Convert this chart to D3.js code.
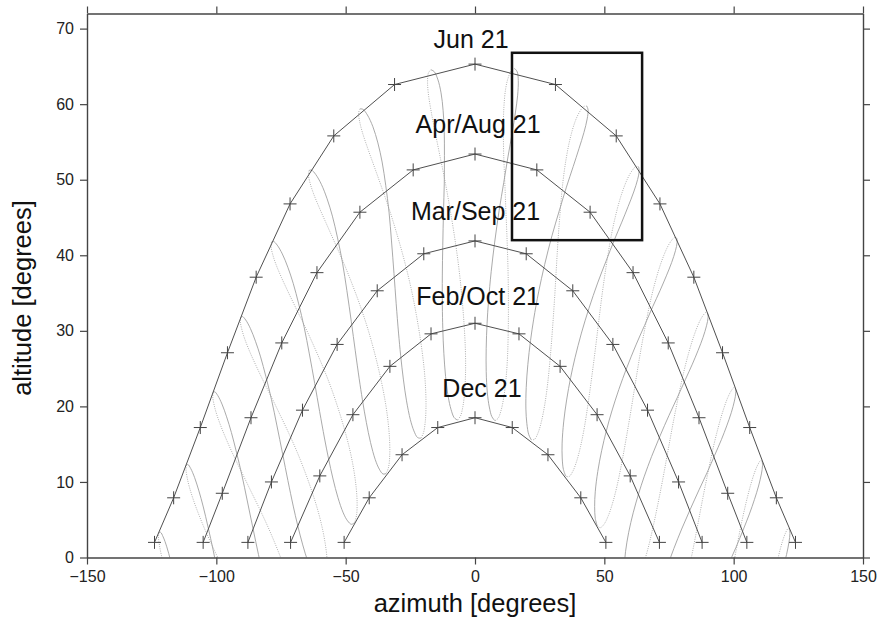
<!DOCTYPE html>
<html><head><meta charset="utf-8">
<script src="https://cdn.jsdelivr.net/npm/d3@7"></script>
<style>body{margin:0;background:#fff}</style>
</head><body>
<svg id="c" width="877" height="622"></svg>
<script>
// ---------- data ----------
const latitude = 48.1;
const xTicks = [-150, -100, -50, 0, 50, 100, 150];
const yTicks = [0, 10, 20, 30, 40, 50, 60, 70];

const dayLabels = ["Jun 21", "Apr/Aug 21", "Mar/Sep 21", "Feb/Oct 21", "Dec 21"];
const labelAz  = [-1.5, 1.2, 0.2, 1.2, 2.7];
const labelAlt = [67.5, 56.2, 44.7, 33.4, 21.3];

// hourly sun positions [azimuth, altitude] along each day path
const pathJun = [[-123.9,2],[-116.5,7.9],[-106.2,17.2],[-95.7,27.1],[-84.6,37.1],[-71.5,46.8],[-54.6,55.8],[-31.1,62.6],[0,65.3],[31.1,62.6],[54.6,55.8],[71.5,46.8],[84.6,37.1],[95.7,27.1],[106.2,17.2],[116.5,7.9],[123.9,2]];
const pathAprAug = [[-105.1,2],[-97.7,8.5],[-86.6,18.5],[-74.7,28.4],[-61.1,37.7],[-44.5,45.7],[-23.9,51.3],[0,53.4],[23.9,51.3],[44.5,45.7],[61.1,37.7],[74.7,28.4],[86.6,18.5],[97.7,8.5],[105.1,2]];
const pathMarSep = [[-87.8,2],[-78.7,10.0],[-66.7,19.5],[-53.3,28.2],[-37.8,35.3],[-19.8,40.2],[0,41.9],[19.8,40.2],[37.8,35.3],[53.3,28.2],[66.7,19.5],[78.7,10.0],[87.8,2]];
const pathFebOct = [[-71.3,2],[-60.0,10.8],[-47.2,18.9],[-32.9,25.3],[-17.0,29.6],[0,31.0],[17.0,29.6],[32.9,25.3],[47.2,18.9],[60.0,10.8],[71.3,2]];
const pathDec = [[-50.6,2],[-40.9,7.9],[-28.2,13.6],[-14.4,17.2],[0,18.5],[14.4,17.2],[28.2,13.6],[40.9,7.9],[50.6,2]];

// analemmas: sun declination [deg] and equation of time [min] through the year
const yearDates = ["Jan 1","Jan 11","Jan 21","Feb 1","Feb 11","Feb 21","Mar 1","Mar 11","Mar 21","Apr 1","Apr 11","Apr 21","May 1","May 11","May 21","Jun 1","Jun 11","Jun 21","Jul 1","Jul 11","Jul 21","Aug 1","Aug 11","Aug 21","Sep 1","Sep 11","Sep 21","Oct 1","Oct 11","Oct 21","Nov 1","Nov 11","Nov 21","Dec 1","Dec 11","Dec 21"];
const declination = [-23.0,-21.8,-20.0,-17.2,-14.1,-10.8,-7.8,-3.9,0.1,4.4,8.2,11.8,15.0,17.7,20.1,22.0,23.1,23.44,23.1,22.0,20.5,18.0,15.3,12.1,8.3,4.5,0.6,-3.3,-7.2,-10.9,-14.5,-17.5,-20.0,-21.8,-23.0,-23.44];
const equationOfTime = [-3.2,-7.6,-11.1,-13.5,-14.2,-13.7,-12.5,-10.2,-7.3,-4.0,-1.0,1.2,2.9,3.6,3.5,2.3,0.5,-1.6,-3.8,-5.5,-6.4,-6.3,-5.2,-3.2,0.0,3.3,6.9,10.3,13.1,15.2,16.4,16.0,14.1,11.0,6.8,1.9];
const meanHourAngles = [-112.5,-97.5,-82.5,-67.5,-52.5,-37.5,-22.5,-7.5,7.5,22.5,37.5,52.5,67.5,82.5,97.5,112.5];

const boxAz = [14.3, 64.6];
const boxAlt = [42.0, 66.8];

// ---------- chart ----------
const svg = d3.select("#c");
const x = d3.scaleLinear().domain([-150, 150]).range([87, 863]);
const y = d3.scaleLinear().domain([0, 72]).range([557.5, 13.5]);
const font = "'Liberation Sans', Arial, Helvetica, sans-serif";

svg.append("clipPath").attr("id", "plot").append("rect")
  .attr("x", 87).attr("y", 13.5).attr("width", 776).attr("height", 544);

// analemmas (sky coordinates rotated to the horizon frame by d3.geoRotation)
const toHorizon = d3.geoRotation([0, 90 - latitude, 0]);
const line = d3.line().x(d => x(d[0])).y(d => y(d[1])).curve(d3.curveCatmullRom);
const gA = svg.append("g").attr("clip-path", "url(#plot)");
const n = yearDates.length;
const solidIdx = [n - 1].concat(d3.range(0, 18));
const dottedIdx = d3.range(17, n);
meanHourAngles.forEach(h0 => {
  const pos = i => toHorizon([h0 + equationOfTime[i] / 4, declination[i]]);
  gA.append("path").attr("d", line(dottedIdx.map(pos)))
    .attr("fill", "none").attr("stroke", "#b0b0b0").attr("stroke-width", 1)
    .attr("stroke-dasharray", "1,1.3");
  gA.append("path").attr("d", line(solidIdx.map(pos)))
    .attr("fill", "none").attr("stroke", "#a0a0a0").attr("stroke-width", 0.9);
});

// day paths
const paths = [pathJun, pathAprAug, pathMarSep, pathFebOct, pathDec];
const lin = d3.line().x(d => x(d[0])).y(d => y(d[1]));
const gP = svg.append("g");
paths.forEach(p => {
  gP.append("path").attr("d", lin(p)).attr("fill", "none")
    .attr("stroke", "#505050").attr("stroke-width", 1);
  gP.selectAll(null).data(p).enter().append("path")
    .attr("d", d => `M${x(d[0]) - 6.5},${y(d[1])}h13M${x(d[0])},${y(d[1]) - 6.5}v13`)
    .attr("stroke", "#444").attr("stroke-width", 1).attr("fill", "none");
});

// day labels
svg.append("g").selectAll("text").data(dayLabels).enter().append("text")
  .attr("x", (d, i) => x(labelAz[i])).attr("y", (d, i) => y(labelAlt[i]))
  .attr("text-anchor", "middle").attr("font-family", font).attr("font-size", 25)
  .attr("fill", "#111").text(d => d);

// highlight box
svg.append("rect")
  .attr("x", x(boxAz[0])).attr("y", y(boxAlt[1]))
  .attr("width", x(boxAz[1]) - x(boxAz[0])).attr("height", y(boxAlt[0]) - y(boxAlt[1]))
  .attr("fill", "none").attr("stroke", "#111").attr("stroke-width", 2.5);

// axes
function styleAxis(g) {
  g.selectAll(".domain").attr("stroke", "#444").attr("stroke-width", 1.4);
  g.selectAll(".tick line").attr("stroke", "#444").attr("stroke-width", 1.2);
  g.selectAll(".tick text").attr("font-family", font).attr("font-size", 16).attr("fill", "#222");
}
svg.append("g").attr("transform", "translate(0,557.5)")
  .call(d3.axisBottom(x).tickValues(xTicks).tickSize(7).tickSizeOuter(0).tickPadding(6).tickFormat(d3.format("d")))
  .call(styleAxis);
svg.append("g").attr("transform", "translate(0,13.5)")
  .call(d3.axisTop(x).tickValues(xTicks).tickSize(7).tickSizeOuter(0).tickFormat(""))
  .call(styleAxis);
svg.append("g").attr("transform", "translate(87,0)")
  .call(d3.axisLeft(y).tickValues(yTicks).tickSize(7).tickSizeOuter(0).tickPadding(6))
  .call(styleAxis);
svg.append("g").attr("transform", "translate(863,0)")
  .call(d3.axisRight(y).tickValues(yTicks).tickSize(7).tickSizeOuter(0).tickFormat(""))
  .call(styleAxis);

// axis titles
svg.append("text").attr("x", 475).attr("y", 612).attr("text-anchor", "middle")
  .attr("font-family", font).attr("font-size", 25.5).attr("fill", "#111").text("azimuth [degrees]");
svg.append("text").attr("transform", "translate(31,298) rotate(-90)").attr("text-anchor", "middle")
  .attr("font-family", font).attr("font-size", 25.5).attr("fill", "#111").text("altitude [degrees]");
</script>
</body></html>
